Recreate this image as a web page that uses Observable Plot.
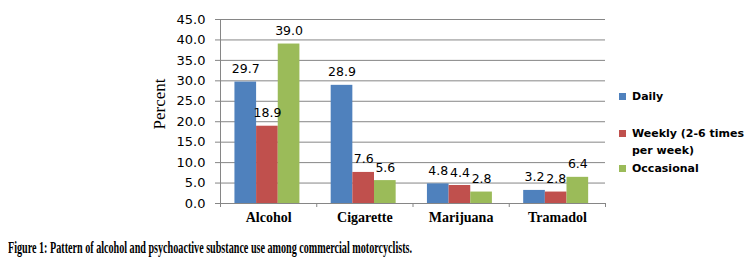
<!DOCTYPE html>
<html>
<head>
<meta charset="utf-8">
<script src="https://cdn.jsdelivr.net/npm/d3@7"></script>
<script src="https://cdn.jsdelivr.net/npm/@observablehq/plot@0.6"></script>
<style>
  html, body { margin: 0; padding: 0; background: #fff; }
  #wrap { position: relative; width: 747px; height: 261px; overflow: hidden; }
  #chart { position: absolute; left: 0; top: 0; }
  .leg { position: absolute; left: 619px; font-family: "DejaVu Sans", sans-serif; font-weight: bold; font-size: 11px; color: #000; }
  .leg .row { position: absolute; left: 0; white-space: nowrap; }
  .leg .sw { position: absolute; left: 0; width: 7px; height: 7px; }
  .leg .tx { position: absolute; left: 13px; line-height: 17px; }
  #caption { position: absolute; left: 8px; top: 239px; font-family: "Liberation Serif", serif; font-weight: bold; font-size: 16px; line-height: normal; white-space: nowrap; transform-origin: 0 0; color: #000; }
</style>
</head>
<body>
<div id="wrap">
  <div id="chart"></div>
  <div class="leg" id="legend"></div>
  <div id="caption">Figure 1: Pattern of alcohol and psychoactive substance use among commercial motorcyclists.</div>
</div>
<script>
const categories = ["Alcohol", "Cigarette", "Marijuana", "Tramadol"];
const seriesNames = ["Daily", "Weekly (2-6 times per week)", "Occasional"];
const daily = [29.7, 28.9, 4.8, 3.2];
const weekly = [18.9, 7.6, 4.4, 2.8];
const occasional = [39.0, 5.6, 2.8, 6.4];
const yTicks = [0, 5, 10, 15, 20, 25, 30, 35, 40, 45];
const colors = ["#4F81BD", "#C0504D", "#9BBB59"];

const seriesValues = [daily, weekly, occasional];
const rows = [];
categories.forEach((c, ci) => {
  seriesNames.forEach((s, si) => {
    rows.push({cat: c, ci, series: s, si, value: seriesValues[si][ci]});
  });
});

// layout within each category slot (fractions of a slot)
const pad = 0.15, bw = 0.225;
const x1 = d => d.ci - 0.5 + pad + d.si * bw;
const x2 = d => d.ci - 0.5 + pad + (d.si + 1) * bw;
const xc = d => d.ci - 0.5 + pad + (d.si + 0.5) * bw;

const gray = "#868686";
const boundaries = d3.range(categories.length + 1).map(i => i - 0.5);

const chart = Plot.plot({
  width: 747,
  height: 230,
  marginLeft: 220,
  marginRight: 142,
  marginTop: 19,
  marginBottom: 27,
  style: {background: "transparent"},
  x: {type: "linear", domain: [-0.5, categories.length - 0.5], axis: null},
  y: {domain: [0, 45], axis: null},
  color: {domain: seriesNames, range: colors},
  marks: [
    Plot.ruleY(yTicks, {stroke: gray, strokeWidth: 1}),
    Plot.ruleX([-0.5], {stroke: gray}),
    Plot.axisY({ticks: yTicks, tickFormat: d3.format(".1f"), tickSize: 5, tickPadding: 10,
      stroke: gray, fill: "#000", fontSize: 13, fontFamily: "DejaVu Sans", label: null}),
    Plot.axisX({ticks: boundaries, tickFormat: () => "", tickSize: 4, stroke: gray, label: null}),
    Plot.axisX({ticks: d3.range(categories.length), tickFormat: i => categories[i], tickSize: 0,
      tickPadding: 9, fontSize: 14, fontFamily: "Liberation Serif", fontWeight: "bold", fill: "#000", label: null}),
    Plot.rectY(rows, {x1, x2, y: "value", fill: "series"}),
    Plot.text(rows, {x: xc, y: "value", text: d => d.value.toFixed(1), dy: -13,
      fontSize: 12.5, fontFamily: "DejaVu Sans", fill: "#000"}),
    Plot.text(["Percent"], {frameAnchor: "left", dx: -61, dy: 18, rotate: -90,
      fontSize: 17, fontFamily: "Liberation Serif", fill: "#000"})
  ]
});
document.getElementById("chart").appendChild(chart);

// legend
const legend = document.getElementById("legend");
const legRows = [
  {lines: ["Daily"], y: 96.5},
  {lines: ["Weekly (2-6 times", "per week)"], y: 133},
  {lines: ["Occasional"], y: 168}
];
legRows.forEach((r, i) => {
  const row = document.createElement("div");
  row.className = "row";
  row.style.top = (r.y - 8.5) + "px";
  const sw = document.createElement("div");
  sw.className = "sw";
  sw.style.background = colors[i];
  sw.style.top = "5px";
  row.appendChild(sw);
  const tx = document.createElement("div");
  tx.className = "tx";
  tx.innerHTML = r.lines.join("<br>");
  row.appendChild(tx);
  legend.appendChild(row);
});

// caption fit to width
const cap = document.getElementById("caption");
const w = cap.getBoundingClientRect().width;
cap.style.transform = "scaleX(" + (404 / w) + ")";
</script>
</body>
</html>
